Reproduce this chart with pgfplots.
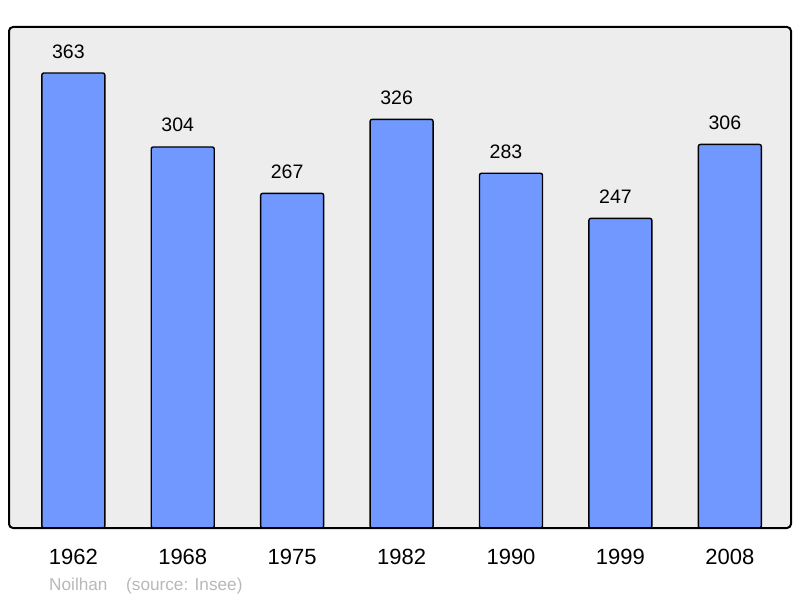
\documentclass[border=0pt]{standalone}
\usepackage{pgfplots}
\pgfplotsset{compat=1.18}
\usepackage{fontspec}
\setmainfont{Liberation Sans}
\definecolor{barblue}{HTML}{7098FF}
\definecolor{bgc}{HTML}{EDEDED}
\definecolor{srcgray}{HTML}{B8B8B8}
\begin{document}
\begin{tikzpicture}[x=1pt,y=1pt]
\useasboundingbox (0,0) rectangle (800,598);
\fill[bgc, rounded corners=4pt] (9,70) rectangle (791,571);
\begin{axis}[at={(9pt,70pt)}, anchor=south west, scale only axis,
  width=782pt, height=501pt,
  xmin=-0.588, xmax=6.559, ymin=0, ymax=399.7,
  axis line style={draw=none},
  ytick=\empty,
  xtick=data,
  xticklabels={1962,1968,1975,1982,1990,1999,2008},
  major tick length=0pt,
  xticklabel style={anchor=center, yshift=-29pt, font=\fontsize{22}{24}\selectfont},
  /pgf/number format/assume math mode=true,
  ybar, bar width=63pt,
  clip=false,
  nodes near coords,
  every node near coord/.append style={anchor=center, xshift=-5pt, yshift=21.7pt, font=\fontsize{19.5}{22}\selectfont, text=black},
]
\addplot[fill=barblue, draw=black, line width=1.4pt, rounded corners=2pt] coordinates {
(0,363) (1,304) (2,267) (3,326) (4,283) (5,247) (6,306)};
\end{axis}
\draw[line width=2pt, rounded corners=4pt] (9,70) rectangle (791,571);
\node[anchor=base west, inner sep=0, text=srcgray, font=\fontsize{17.2}{20}\selectfont] at (49,8) {Noilhan};
\node[anchor=base west, inner sep=0, text=srcgray, font=\fontsize{17.2}{20}\selectfont] at (126,8) {(source: Insee)};
\end{tikzpicture}
\end{document}
